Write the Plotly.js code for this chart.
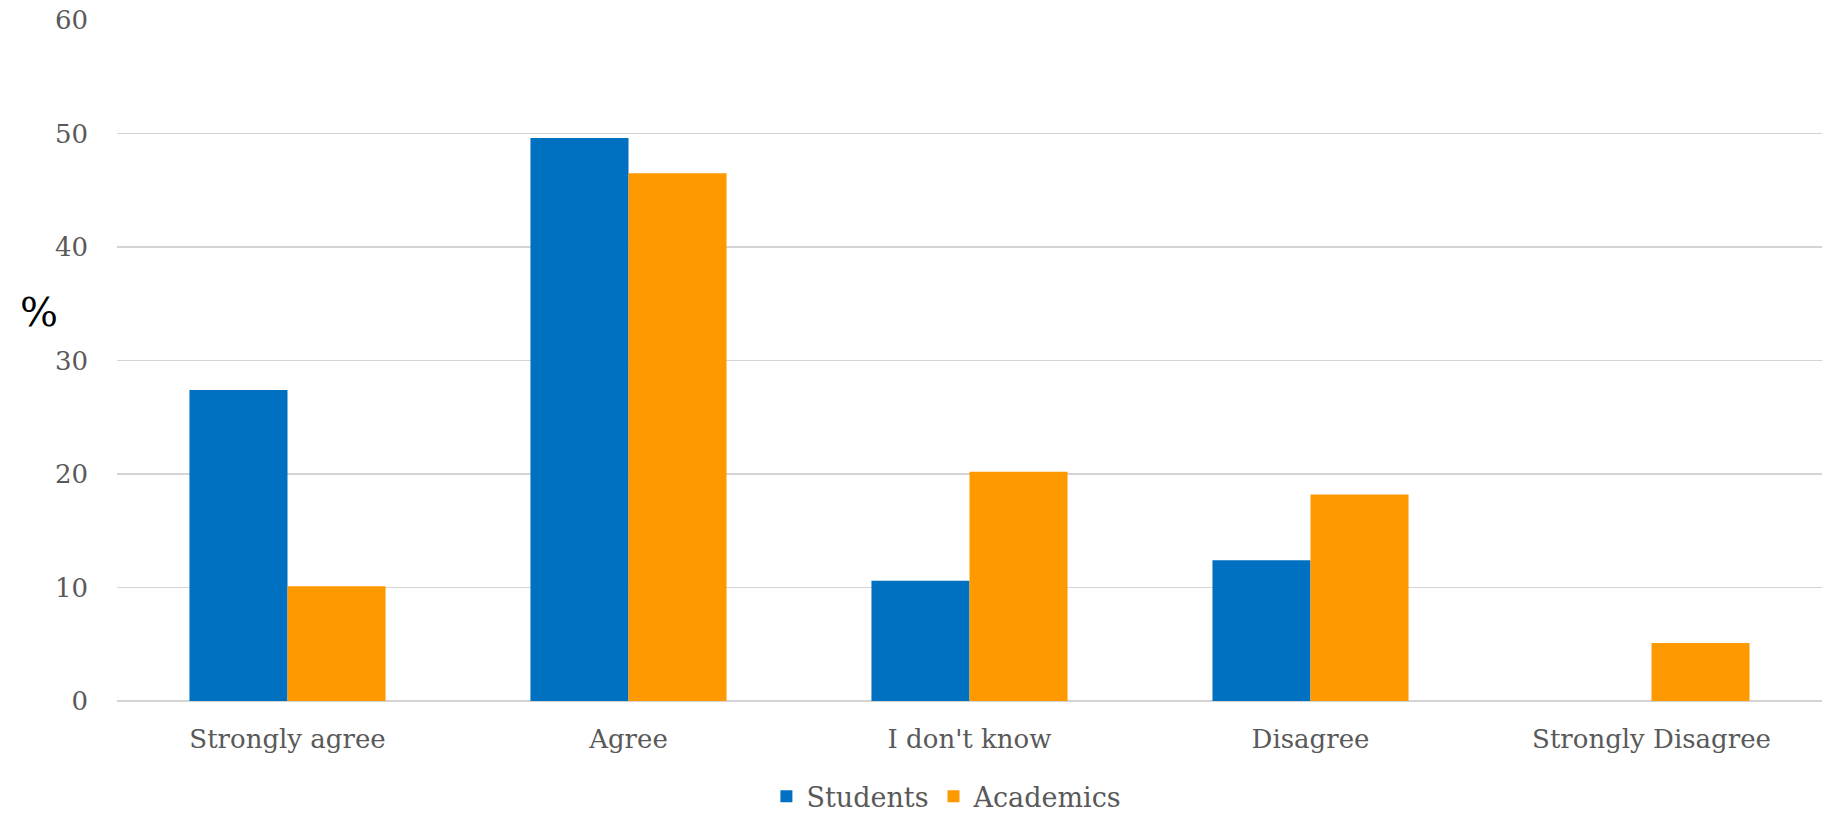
<!DOCTYPE html>
<html>
<head>
<meta charset="utf-8">
<script src="https://cdn.plot.ly/plotly-3.0.1.min.js"></script>
<style>
  html, body { margin: 0; padding: 0; background: #ffffff; }
  #chart { width: 1828px; height: 813px; }
</style>
</head>
<body>
<div id="chart"></div>
<script>
const categories = ["Strongly agree", "Agree", "I don't know", "Disagree", "Strongly Disagree"];
const students = [27.4, 49.6, 10.6, 12.4, 0];
const academics = [10.1, 46.5, 20.2, 18.2, 5.1];
const yTickVals = [0, 10, 20, 30, 40, 50, 60];

const FONT = "DejaVu Serif, Georgia, serif";
const GREY = "#595959";

const traces = [
  { type: "bar", name: "Students", x: categories, y: students,
    marker: { color: "#0070c0" }, hoverinfo: "x+y" },
  { type: "bar", name: "Academics", x: categories, y: academics,
    marker: { color: "#ff9900" }, hoverinfo: "x+y" }
];

const layout = {
  width: 1828, height: 813,
  paper_bgcolor: "#ffffff", plot_bgcolor: "#ffffff",
  margin: { l: 117, r: 6, t: 20, b: 112, autoexpand: false },
  barmode: "group", bargap: 0.425, bargroupgap: 0,
  font: { family: FONT, color: GREY, size: 26 },
  xaxis: {
    type: "category", automargin: false,
    showgrid: false, zeroline: false, showline: false,
    ticks: "", ticklabelstandoff: 20,
    tickfont: { family: FONT, color: GREY, size: 26 }
  },
  yaxis: {
    range: [0, 60], tickvals: yTickVals, ticktext: yTickVals.map(String),
    automargin: false,
    showgrid: true, gridcolor: "#d4d4d4", gridwidth: 1.8,
    zeroline: true, zerolinecolor: "#d4d4d4", zerolinewidth: 1.8,
    showline: false, ticks: "", ticklabelstandoff: 28,
    tickfont: { family: FONT, color: GREY, size: 26 }
  },
  legend: {
    orientation: "h", x: 0.518, xref: "container", xanchor: "center",
    y: 0.02, yref: "container", yanchor: "middle",
    font: { family: FONT, color: GREY, size: 27 },
    itemwidth: 30, tracegroupgap: 0
  },
  annotations: [{
    text: "%", xref: "paper", yref: "paper", x: 0, y: 0.571,
    xanchor: "center", yanchor: "middle", xshift: -78, showarrow: false,
    font: { family: FONT, color: "#000000", size: 40 }
  }]
};

Plotly.newPlot("chart", traces, layout, { displayModeBar: false, staticPlot: true });
</script>
</body>
</html>
